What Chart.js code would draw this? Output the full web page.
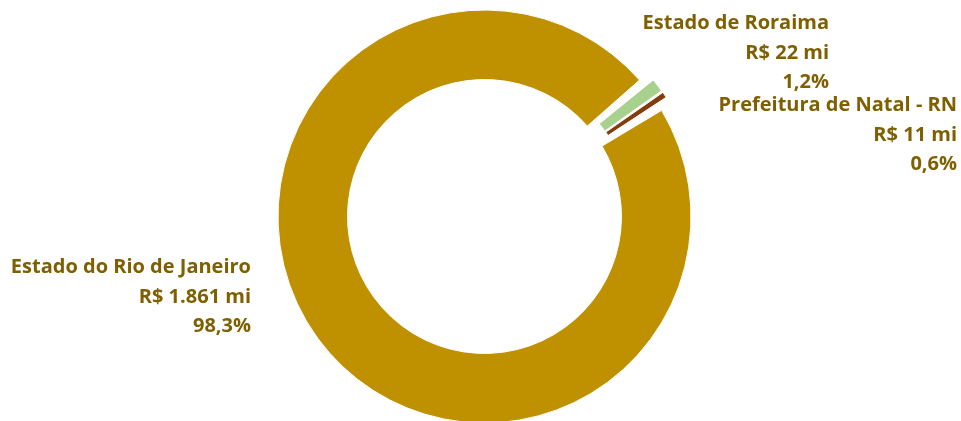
<!DOCTYPE html>
<html>
<head>
<meta charset="utf-8">
<script src="https://cdn.jsdelivr.net/npm/chart.js@4"></script>
<style>
  html, body { margin: 0; padding: 0; background: #fff; }
  #wrap { width: 961px; height: 421px; }
</style>
</head>
<body>
<div id="wrap"><canvas id="donut" width="961" height="421"></canvas></div>
<script>
// Chart data
const categories = ['Estado do Rio de Janeiro', 'Estado de Roraima', 'Prefeitura de Natal - RN'];
const values = [1861, 22, 11]; // R$ mi
const sliceColors = ['#BF9000', '#A9D18E', '#843C0C'];
const explode = [0, 22, 22];

// Label anchors (right edge, first baseline)
const labelAnchors = [[251, 273], [829, 29], [957, 111]];
const lineGap = 29.5;
const labelColor = '#7F6000';

function fmtThousands(n) {
    return String(n).replace(/\B(?=(\d{3})+(?!\d))/g, '.');
}

const total = values.reduce((a, b) => a + b, 0);

// Draw the data labels next to each slice
const sliceLabels = {
    id: 'sliceLabels',
    afterDraw(chart) {
        const ctx = chart.ctx;
        ctx.save();
        ctx.fillStyle = labelColor;
        ctx.font = 'bold 20px "Open Sans"';
        ctx.textAlign = 'right';
        ctx.textBaseline = 'alphabetic';
        categories.forEach((name, i) => {
            const pct = (values[i] / total * 100).toFixed(1).replace('.', ',') + '%';
            const lines = [name, 'R$ ' + fmtThousands(values[i]) + ' mi', pct];
            const [x, y] = labelAnchors[i];
            lines.forEach((t, k) => ctx.fillText(t, x, y + k * lineGap));
        });
        ctx.restore();
    }
};

new Chart(document.getElementById('donut').getContext('2d'), {
    type: 'doughnut',
    data: {
        labels: categories,
        datasets: [{
            data: values,
            backgroundColor: sliceColors,
            borderColor: '#fff',
            borderWidth: 1,
            offset: explode
        }]
    },
    options: {
        responsive: false,
        animation: false,
        rotation: 57,
        radius: 204.5,
        cutout: '66%',
        spacing: 4,
        layout: { padding: { left: 8, top: 12 } },
        plugins: {
            legend: { display: false },
            tooltip: { enabled: false }
        }
    },
    plugins: [sliceLabels]
});
</script>
</body>
</html>
